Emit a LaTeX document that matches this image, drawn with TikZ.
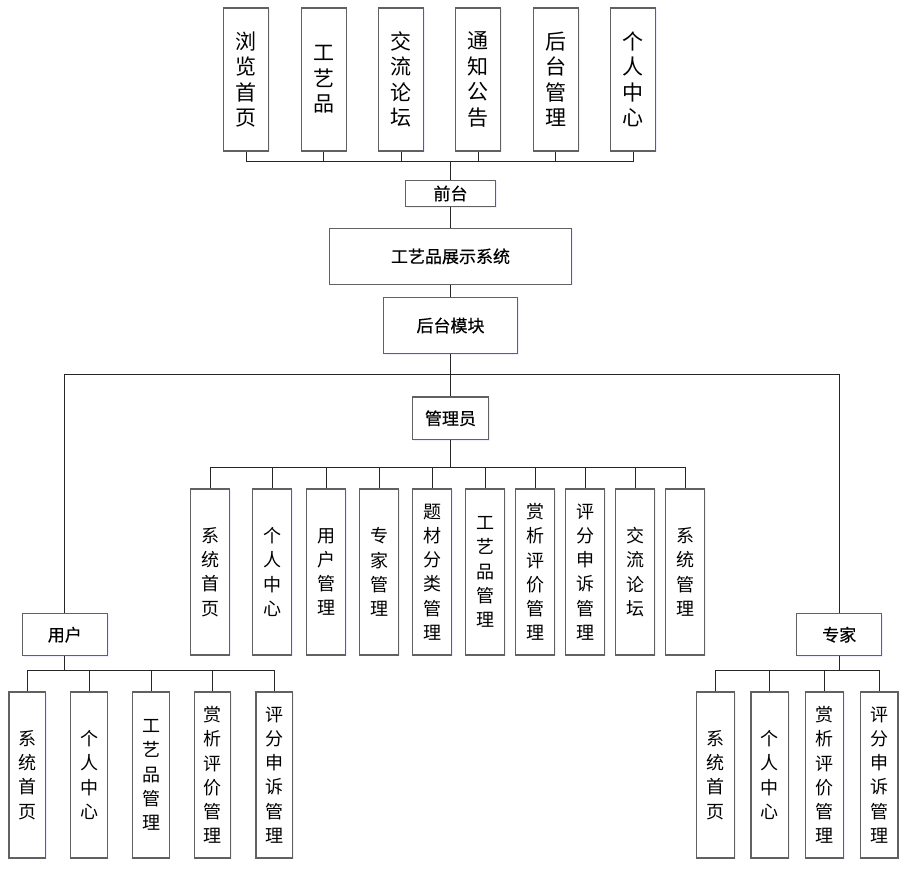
\documentclass[tikz,border=0pt]{standalone}
\usepackage{fontspec}
\newfontfamily\cjk{Noto Sans CJK SC}
\newfontfamily\cjkb[FakeBold=0.5]{Noto Sans CJK SC}
\usetikzlibrary{shadows}
\begin{document}
\begin{tikzpicture}[x=1pt,y=-1pt,
  box/.style={draw=black!62, line width=1.3pt, fill=white, inner sep=0pt,
    drop shadow={shadow xshift=1.2pt, shadow yshift=-1.2pt, fill=blue!12, opacity=0.5}},
  hbox/.style={box, font=\cjkb\fontsize{17}{20}\selectfont},
  vtop/.style={box, align=center, minimum width=45, minimum height=143, font=\cjk\fontsize{21}{25.5}\selectfont},
  vlow/.style={box, align=center, minimum height=166, font=\cjk\fontsize{18}{24.3}\selectfont},
  conn/.style={draw=black!85, line width=1pt}]
\useasboundingbox (0,0) rectangle (912,874);
\fill[white] (0,0) rectangle (912,874);
% top row
\node[vtop] (t1) at (246,79.5) {浏\\览\\首\\页};
\node[vtop] (t2) at (323.7,79.5) {工\\艺\\品};
\node[vtop] (t3) at (401,79.5) {交\\流\\论\\坛};
\node[vtop] (t4) at (478.3,79.5) {通\\知\\公\\告};
\node[vtop] (t5) at (555.8,79.5) {后\\台\\管\\理};
\node[vtop] (t6) at (633.2,79.5) {个\\人\\中\\心};
% central column
\node[hbox, minimum width=90, minimum height=26.4] (qt) at (450.5,193.5) {前台};
\node[hbox, minimum width=241.7, minimum height=56] (sys) at (450.5,256.3) {工艺品展示系统};
\node[hbox, minimum width=133.6, minimum height=55.6] (ht) at (450.5,325.5) {后台模块};
\node[hbox, minimum width=76.6, minimum height=42.7] (mgr) at (450.5,418.3) {管理员};
% manager children
\node[vlow, minimum width=39] (m1) at (210,572) {系\\统\\首\\页};
\node[vlow, minimum width=39] (m2) at (272,572) {个\\人\\中\\心};
\node[vlow, minimum width=39] (m3) at (326,572) {用\\户\\管\\理};
\node[vlow, minimum width=39] (m4) at (379,572) {专\\家\\管\\理};
\node[vlow, minimum width=39] (m5) at (432,572) {题\\材\\分\\类\\管\\理};
\node[vlow, minimum width=39] (m6) at (485,572) {工\\艺\\品\\管\\理};
\node[vlow, minimum width=39] (m7) at (535,572) {赏\\析\\评\\价\\管\\理};
\node[vlow, minimum width=39] (m8) at (585,572) {评\\分\\申\\诉\\管\\理};
\node[vlow, minimum width=39] (m9) at (635,572) {交\\流\\论\\坛};
\node[vlow, minimum width=39] (m10) at (685,572) {系\\统\\管\\理};
% user and expert
\node[hbox, minimum width=85, minimum height=42] (usr) at (64.8,634.7) {用户};
\node[hbox, minimum width=85, minimum height=42] (exp) at (839.2,634.7) {专家};
\node[vlow, minimum width=36.5] (u1) at (27.2,775) {系\\统\\首\\页};
\node[vlow, minimum width=36.5] (u2) at (89,775) {个\\人\\中\\心};
\node[vlow, minimum width=36.5] (u3) at (151,775) {工\\艺\\品\\管\\理};
\node[vlow, minimum width=36.5] (u4) at (212.5,775) {赏\\析\\评\\价\\管\\理};
\node[vlow, minimum width=36.5] (u5) at (274.2,775) {评\\分\\申\\诉\\管\\理};
\node[vlow, minimum width=37.6] (e1) at (715.5,775) {系\\统\\首\\页};
\node[vlow, minimum width=37.6] (e2) at (769.8,775) {个\\人\\中\\心};
\node[vlow, minimum width=37.6] (e3) at (824.5,775) {赏\\析\\评\\价\\管\\理};
\node[vlow, minimum width=37.6] (e4) at (879.2,775) {评\\分\\申\\诉\\管\\理};
% bus coordinates
\coordinate (tb) at (450.5,161.7);
\coordinate (mb) at (450.5,374);
\coordinate (ab) at (450.5,467.7);
\coordinate (ub) at (64.8,670.7);
\coordinate (eb) at (839.2,670.7);
% connectors
\foreach \n in {t1,t2,t3,t4,t5,t6} \draw[conn] (\n.south) |- (tb);
\draw[conn] (tb) -- (qt.north);
\draw[conn] (qt.south) -- (sys.north);
\draw[conn] (sys.south) -- (ht.north);
\draw[conn] (ht.south) -- (mgr.north);
\draw[conn] (mb) -| (usr.north);
\draw[conn] (mb) -| (exp.north);
\draw[conn] (mgr.south) -- (ab);
\foreach \n in {m1,m2,m3,m4,m5,m6,m7,m8,m9,m10} \draw[conn] (\n.north) |- (ab);
\draw[conn] (usr.south) -- (ub);
\foreach \n in {u1,u2,u3,u4,u5} \draw[conn] (\n.north) |- (ub);
\draw[conn] (exp.south) -- (eb);
\foreach \n in {e1,e2,e3,e4} \draw[conn] (\n.north) |- (eb);
\end{tikzpicture}
\end{document}
